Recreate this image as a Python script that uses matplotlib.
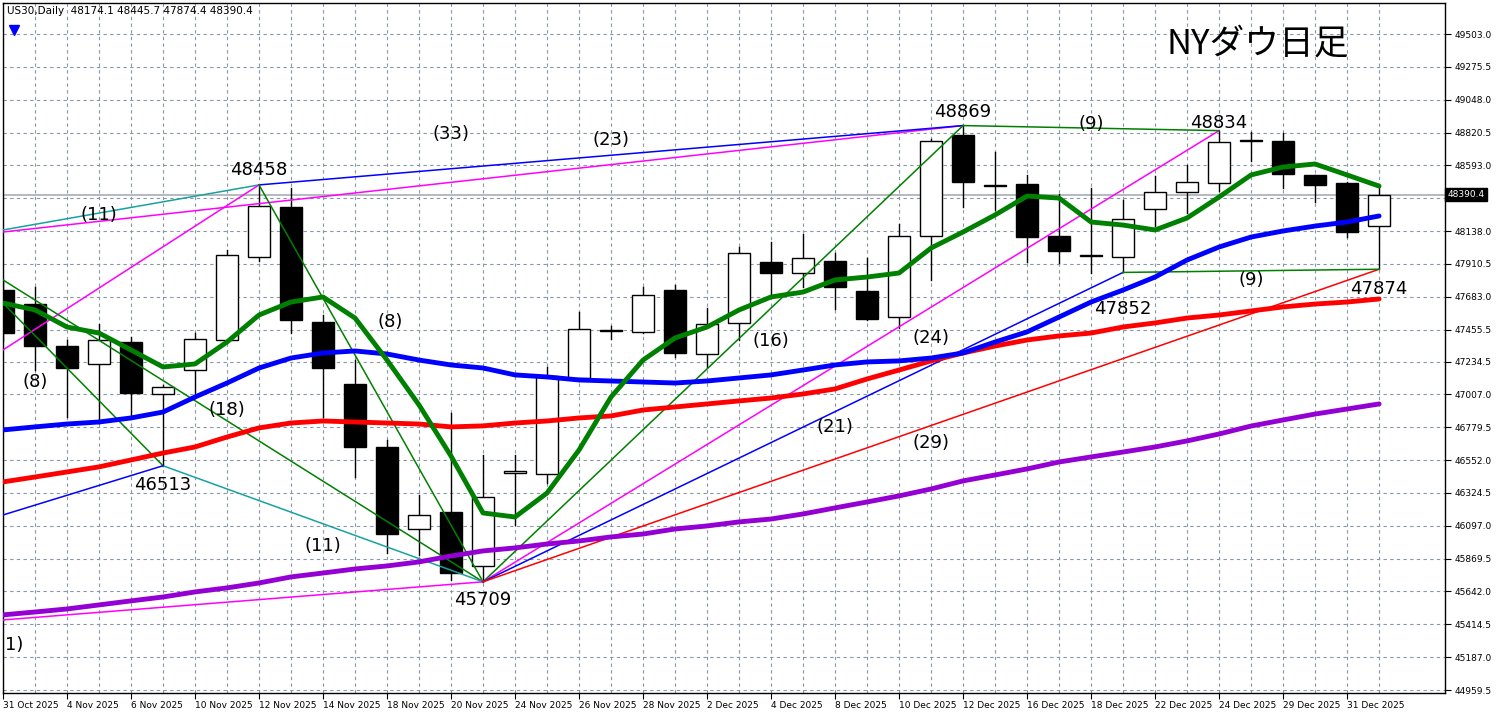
import matplotlib
matplotlib.use("Agg")
import matplotlib.pyplot as plt
from matplotlib.patches import Rectangle

plt.rcParams['font.family'] = ['Noto Sans CJK JP', 'DejaVu Sans']

dates = ["31 Oct 2025", "3 Nov", "4 Nov 2025", "5 Nov", "6 Nov 2025", "7 Nov", "10 Nov 2025", "11 Nov",
         "12 Nov 2025", "13 Nov", "14 Nov 2025", "17 Nov", "18 Nov 2025", "19 Nov", "20 Nov 2025", "21 Nov",
         "24 Nov 2025", "25 Nov", "26 Nov 2025", "27 Nov", "28 Nov 2025", "1 Dec", "2 Dec 2025", "3 Dec",
         "4 Dec 2025", "5 Dec", "8 Dec 2025", "9 Dec", "10 Dec 2025", "11 Dec", "12 Dec 2025", "15 Dec",
         "16 Dec 2025", "17 Dec", "18 Dec 2025", "19 Dec", "22 Dec 2025", "23 Dec", "24 Dec 2025", "26 Dec",
         "29 Dec 2025", "30 Dec", "31 Dec 2025", "2 Jan"]
opens  = [47730, 47633, 47342, 47218, 47370, 47010, 47176, 47384, 47959, 48305, 47509, 47079, 46643, 46075,
          46193, 45819, 46460, 46456, 47121, 47447, 47440, 47730, 47287, 47502, 47924, 47848, 47931, 47723,
          47543, 48104, 48804, 48460, 48464, 48104, 47965, 47959, 48291, 48409, 48471, 48760, 48762, 48527,
          48471, 48174.1]
highs  = [47800, 47751, 47384, 47495, 47405, 47070, 47432, 48007, 48458, 48437, 47557, 47245, 46691, 46311,
          46878, 46588, 46588, 47197, 47578, 47481, 47751, 47765, 47605, 48028, 48063, 48118, 47986, 47952,
          48187, 48776, 48869, 48686, 48527, 48395, 48437, 48353, 48520, 48596, 48834, 48825, 48818, 48530,
          48480, 48445.7]
lows   = [47380, 47176, 46851, 46809, 46850, 46513, 46990, 47370, 47930, 47432, 46851, 46435, 45909, 45895,
          45722, 45709, 46103, 46394, 47100, 47391, 47430, 47266, 47197, 47384, 47682, 47751, 47599, 47522,
          47467, 47799, 48305, 48284, 47924, 47917, 47848, 47852, 48173, 48263, 48416, 48624, 48437, 48340,
          48097, 47874.4]
closes = [47432, 47342, 47190, 47384, 47017, 47058, 47391, 47973, 48312, 47522, 47190, 46643, 46040, 46172,
          45770, 46297, 46475, 47135, 47460, 47454, 47696, 47294, 47495, 47986, 47848, 47952, 47751, 47529,
          48104, 48762, 48478, 48450, 48097, 48000, 47975, 48222, 48409, 48478, 48755, 48765, 48534, 48457,
          48132, 48390.4]

ma_green  = [47640, 47592, 47474, 47432, 47315, 47197, 47218, 47370, 47557, 47647, 47682, 47536, 47245, 46934,
             46580, 46186, 46158, 46324, 46622, 46989, 47245, 47398, 47474, 47592, 47682, 47716, 47800, 47820,
             47848, 48021, 48132, 48250, 48381, 48367, 48201, 48180, 48146, 48229, 48374, 48527, 48582, 48603,
             48527, 48450]
ma_blue   = [46761, 46782, 46802, 46816, 46844, 46885, 46989, 47086, 47190, 47259, 47294, 47308, 47287, 47245,
             47211, 47190, 47142, 47128, 47107, 47100, 47093, 47086, 47100, 47121, 47142, 47176, 47211, 47232,
             47239, 47259, 47294, 47370, 47440, 47543, 47647, 47730, 47820, 47938, 48028, 48097, 48139, 48173,
             48201, 48243]
ma_red    = [46401, 46435, 46470, 46505, 46553, 46601, 46643, 46712, 46775, 46809, 46823, 46816, 46809, 46802,
             46782, 46789, 46809, 46823, 46844, 46858, 46899, 46920, 46941, 46962, 46982, 47010, 47045, 47114,
             47176, 47239, 47294, 47342, 47384, 47412, 47432, 47474, 47502, 47536, 47557, 47585, 47613, 47633,
             47647, 47668]
ma_purple = [45480, 45500, 45521, 45549, 45577, 45604, 45639, 45667, 45701, 45743, 45770, 45798, 45819, 45847,
             45888, 45923, 45944, 45971, 45992, 46020, 46040, 46075, 46096, 46124, 46144, 46179, 46221, 46262,
             46304, 46352, 46408, 46449, 46491, 46539, 46574, 46608, 46643, 46685, 46733, 46788, 46830, 46871,
             46906, 46941]

# trend lines: (bar1, price1, bar2, price2, colour)
trend_lines = [
    (0, 48146, 8, 48458, '#17a2a2'),
    (0, 48132, 30, 48869, '#ff00ff'),
    (8, 48458, 30, 48869, '#0000ff'),
    (0, 47315, 8, 48458, '#ff00ff'),
    (0, 47800, 15, 45709, '#008000'),
    (0, 47640, 5, 46513, '#008000'),
    (8, 48458, 15, 45709, '#008000'),
    (5, 46513, 15, 45709, '#17a2a2'),
    (0, 46172, 5, 46513, '#0000ff'),
    (0, 45445, 15, 45709, '#ff00ff'),
    (15, 45709, 30, 48869, '#008000'),
    (15, 45709, 38, 48834, '#ff00ff'),
    (15, 45709, 35, 47852, '#0000ff'),
    (15, 45709, 43, 47874, '#ff0000'),
    (30, 48869, 38, 48834, '#008000'),
    (35, 47852, 43, 47874, '#008000'),
]

labels = [
    (3.0, 48250, "(11)"), (8.0, 48560, "48458"), (14.0, 48810, "(33)"), (19.0, 48770, "(23)"),
    (30.0, 48960, "48869"), (34.0, 48880, "(9)"), (38.0, 48890, "48834"),
    (1.0, 47090, "(8)"), (7.0, 46900, "(18)"), (12.1, 47510, "(8)"), (24.0, 47380, "(16)"),
    (29.0, 47400, "(24)"), (26.0, 46780, "(21)"), (29.0, 46670, "(29)"), (39.0, 47800, "(9)"),
    (43.0, 47740, "47874"), (35.0, 47600, "47852"), (5.0, 46380, "46513"), (10.0, 45960, "(11)"),
    (15.0, 45580, "45709"), (0.35, 45270, "1)"),
]

price_ticks = [44959.5, 45187.0, 45414.5, 45642.0, 45869.5, 46097.0, 46324.5, 46552.0, 46779.5, 47007.0,
               47234.5, 47455.5, 47683.0, 47910.5, 48138.0, 48365.5, 48593.0, 48820.5, 49048.0, 49275.5, 49503.0]

fig = plt.figure(figsize=(15, 7.16), dpi=100)
ax = fig.add_axes([3/1500, 23/716, 1442/1500, 690/716])
n = len(dates)
xs = list(range(n))
ax.set_xlim(0, 45.06)
ax.set_ylim(44939, 49718)

for p in price_ticks:
    ax.axhline(p, color='#8a96a8', lw=0.8, ls=(0, (3, 3)), zorder=0)
for i in xs:
    ax.axvline(i, color='#8a96a8', lw=0.8, ls=(0, (3, 3)), zorder=0)

ax.axhline(closes[-1], color='#a8adb5', lw=1.2, zorder=1)

w = 0.68
for i in xs:
    o, h, l, c = opens[i], highs[i], lows[i], closes[i]
    ax.plot([i, i], [l, h], color='black', lw=1, zorder=2)
    bottom = min(o, c)
    height = max(abs(c - o), 8)
    ax.add_patch(Rectangle((i - w/2, bottom), w, height, facecolor='white' if c >= o else 'black',
                           edgecolor='black', lw=1, zorder=3))

for x1, p1, x2, p2, col in trend_lines:
    ax.plot([x1, x2], [p1, p2], color=col, lw=1.1, zorder=4)

ax.plot(xs, ma_purple, color='#9400d3', lw=3.5, zorder=5, solid_capstyle='round')
ax.plot(xs, ma_red, color='#ff0000', lw=3.5, zorder=5, solid_capstyle='round')
ax.plot(xs, ma_blue, color='#0000ff', lw=3.5, zorder=5, solid_capstyle='round')
ax.plot(xs, ma_green, color='#008000', lw=3.5, zorder=5, solid_capstyle='round')

for x, y, t in labels:
    ax.text(x, y, t, fontsize=13, ha='center', va='center', color='black', zorder=6,
            family=['DejaVu Sans'])

ax.text(0.87, 0.94, "NYダウ日足", transform=ax.transAxes, fontsize=25, ha='center', va='center')
ax.text(0.003, 0.988, "US30,Daily  48174.1 48445.7 47874.4 48390.4", transform=ax.transAxes,
        fontsize=7.5, ha='left', va='center', family=['DejaVu Sans'])
ax.plot([0.35], [49530], marker='v', color='#0000ff', markersize=7, zorder=6)

ax.yaxis.tick_right()
ax.set_yticks(price_ticks)
ax.set_yticklabels(["" if abs(p - 48365.5) < 1 else f"{p:.1f}" for p in price_ticks], fontsize=6.5,
                   family=['DejaVu Sans'])
ax.tick_params(axis='y', length=4, pad=3)
ax.text(1.0015, closes[-1], f"{closes[-1]:.1f}", transform=ax.get_yaxis_transform(), fontsize=6.5,
        color='white', ha='left', va='center', family=['DejaVu Sans'],
        bbox=dict(boxstyle='square,pad=0.25', facecolor='black', edgecolor='black'))

tick_idx = list(range(0, n, 2))
ax.set_xticks(tick_idx)
ax.set_xticklabels([dates[i] for i in tick_idx], fontsize=6.5, ha='left', family=['DejaVu Sans'])
ax.tick_params(axis='x', length=4, pad=2)
for s in ax.spines.values():
    s.set_color('black')
    s.set_linewidth(1)

fig.savefig("out.png", dpi=100, facecolor='white')
